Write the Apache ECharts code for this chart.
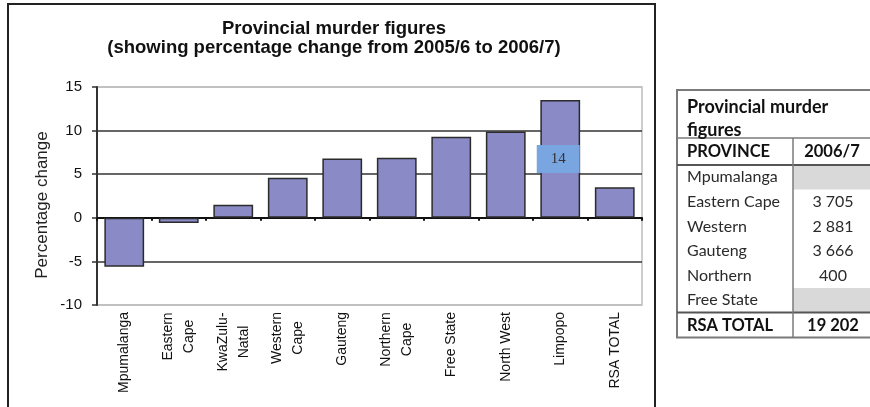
<!DOCTYPE html>
<html>
<head>
<meta charset="utf-8">
<script src="https://cdn.jsdelivr.net/npm/echarts@6/dist/echarts.min.js"></script>
<style>
html,body{margin:0;padding:0;background:#fff;}
#chart{width:870px;height:407px;}
</style>
</head>
<body>
<div id="chart"></div>
<script>
// ---- data ----
const chartTitle = 'Provincial murder figures';
const chartSubtitle = '(showing percentage change from 2005/6 to 2006/7)';
const yAxisName = 'Percentage change';
const categories = ['Mpumalanga', 'Eastern\nCape', 'KwaZulu-\nNatal', 'Western\nCape', 'Gauteng', 'Northern\nCape', 'Free State', 'North West', 'Limpopo', 'RSA TOTAL'];
const changeValues = [-5.6, -0.6, 1.5, 4.6, 6.8, 6.9, 9.3, 9.9, 13.5, 3.5];
const labelledIndex = 8; // Limpopo carries a data label
const yMin = -10, yMax = 15, yStep = 5;

const tableTitle = ['Provincial murder', 'figures'];
const tableHeader = ['PROVINCE', '2006/7'];
const tableProvinces = ['Mpumalanga', 'Eastern Cape', 'Western', 'Gauteng', 'Northern', 'Free State'];
const tableValues = ['', '3 705', '2 881', '3 666', '400', ''];
const tableTotal = ['RSA TOTAL', '19 202'];

// ---- styling helpers ----
const AR = 'Arial, "Liberation Sans", sans-serif';
const TB = 'Lato, "Open Sans", sans-serif';
const labelFont = '14px ' + AR;
const ctx = document.createElement('canvas').getContext('2d');
ctx.font = labelFont;
const rich = {};
categories.forEach((c, i) => {
  const w = Math.max(...c.split('\n').map(s => ctx.measureText(s).width));
  rich['c' + i] = { width: Math.ceil(w), align: 'center', fontSize: 14, lineHeight: 21, fontFamily: AR, color: '#111' };
});

const chart = echarts.init(document.getElementById('chart'), null, { renderer: 'canvas' });

// table graphics
const tX0 = 677, tX1 = 875, tXm = 793;
const tTop = 90, tHead = 138, tRows = 165, rowH = 24.6;
const tTotTop = tRows + rowH * tableProvinces.length;
const tBottom = tTotTop + 25;
const tableEls = [];
tableValues.forEach((v, i) => {
  if (v === '') {
    tableEls.push({ type: 'rect', shape: { x: tXm, y: tRows + rowH * i, width: tX1 - tXm, height: rowH }, style: { fill: '#d9d9d9' } });
  }
});
tableEls.push({ type: 'rect', shape: { x: tX0, y: tTop, width: tX1 - tX0, height: tBottom - tTop }, style: { fill: null, stroke: '#7a7a7a', lineWidth: 2 } });
[[tHead, '#7a7a7a', 1.5], [tRows, '#555', 2], [tTotTop, '#555', 2]].forEach(([y, c, w]) => {
  tableEls.push({ type: 'line', shape: { x1: tX0, y1: y, x2: tX1, y2: y }, style: { stroke: c, lineWidth: w } });
});
tableEls.push({ type: 'line', shape: { x1: tXm, y1: tHead, x2: tXm, y2: tBottom }, style: { stroke: '#7a7a7a', lineWidth: 1.5 } });
tableTitle.forEach((t, i) => {
  tableEls.push({ type: 'text', x: 687, y: 107 + i * 23, style: { text: t, font: 'bold 18px ' + TB, fill: '#111', textVerticalAlign: 'middle' } });
});
tableEls.push({ type: 'text', x: 687, y: 152, style: { text: tableHeader[0], font: 'bold 16.5px ' + TB, fill: '#111', textVerticalAlign: 'middle' } });
tableEls.push({ type: 'text', x: 832, y: 152, style: { text: tableHeader[1], font: 'bold 16.5px ' + TB, fill: '#111', textAlign: 'center', textVerticalAlign: 'middle' } });
tableProvinces.forEach((p, i) => {
  const cy = tRows + rowH * i + rowH / 2;
  tableEls.push({ type: 'text', x: 687, y: cy, style: { text: p, font: '16px ' + TB, fill: '#2a2a2a', textVerticalAlign: 'middle' } });
  if (tableValues[i] !== '') {
    tableEls.push({ type: 'text', x: 833, y: cy, style: { text: tableValues[i], font: '16px ' + TB, fill: '#2a2a2a', textAlign: 'center', textVerticalAlign: 'middle' } });
  }
});
tableEls.push({ type: 'text', x: 687, y: tTotTop + 13, style: { text: tableTotal[0], font: 'bold 16.5px ' + TB, fill: '#111', textVerticalAlign: 'middle' } });
tableEls.push({ type: 'text', x: 833, y: tTotTop + 13, style: { text: tableTotal[1], font: 'bold 16.5px ' + TB, fill: '#111', textAlign: 'center', textVerticalAlign: 'middle' } });

const option = {
  backgroundColor: '#fff',
  animation: false,
  grid: { left: 97, top: 87, right: 228, bottom: 102, show: true, borderColor: '#bdbdbd', borderWidth: 1.5, backgroundColor: 'transparent' },
  xAxis: [
    {
      type: 'category', data: categories, position: 'bottom',
      axisLine: { show: false, onZero: false },
      axisTick: { show: false },
      axisLabel: {
        interval: 0, rotate: 90, margin: 7, fontSize: 14, fontFamily: AR, color: '#111', lineHeight: 21,
        formatter: (v, i) => v.includes('\n') ? v.split('\n').map(s => '{c' + i + '|' + s + '}').join('\n') : v,
        rich: rich
      }
    },
    {
      type: 'category', data: categories, position: 'bottom',
      axisLine: { show: true, onZero: true, lineStyle: { color: '#111', width: 2 } },
      axisTick: { show: true, length: 3, interval: 0, lineStyle: { color: '#111', width: 2 } },
      axisLabel: { show: false }
    }
  ],
  yAxis: {
    type: 'value', min: yMin, max: yMax, interval: yStep,
    axisLine: { show: true, lineStyle: { color: '#333', width: 2 } },
    axisTick: { show: true, length: 5, lineStyle: { color: '#333', width: 1.5 } },
    axisLabel: { fontSize: 15, fontFamily: AR, color: '#111', margin: 15 },
    splitLine: { show: true, lineStyle: { color: ['#bdbdbd', '#333', '#333', '#333', '#333', '#bdbdbd'], width: 1.5 } }
  },
  series: [{
    type: 'bar', xAxisIndex: 0, barWidth: '73%',
    data: changeValues.map((v, i) => i === labelledIndex ? {
      value: v,
      label: {
        show: true, position: 'inside', formatter: p => String(Math.round(p.value)),
        backgroundColor: '#79a5e0', padding: [7, 14, 6, 14], offset: [-2, 0],
        fontFamily: '"Liberation Serif", "DejaVu Serif", serif', fontSize: 15, color: '#333'
      }
    } : v),
    itemStyle: { color: '#8a8ac6', borderColor: '#2b2b2b', borderWidth: 1.5 }
  }],
  graphic: [
    { type: 'rect', shape: { x: 8, y: 4, width: 647, height: 420 }, style: { fill: null, stroke: '#222', lineWidth: 2 }, z: 10 },
    { type: 'text', x: 334, y: 29, style: { text: chartTitle, font: 'bold 18.5px ' + AR, fill: '#111', textAlign: 'center', textVerticalAlign: 'middle' } },
    { type: 'text', x: 334, y: 48, style: { text: chartSubtitle, font: 'bold 18.5px ' + AR, fill: '#111', textAlign: 'center', textVerticalAlign: 'middle' } },
    { type: 'text', x: 42, y: 205, rotation: Math.PI / 2, style: { text: yAxisName, font: '17px ' + AR, fill: '#222', textAlign: 'center', textVerticalAlign: 'middle' } }
  ].concat(tableEls)
};
chart.setOption(option);
</script>
</body>
</html>
